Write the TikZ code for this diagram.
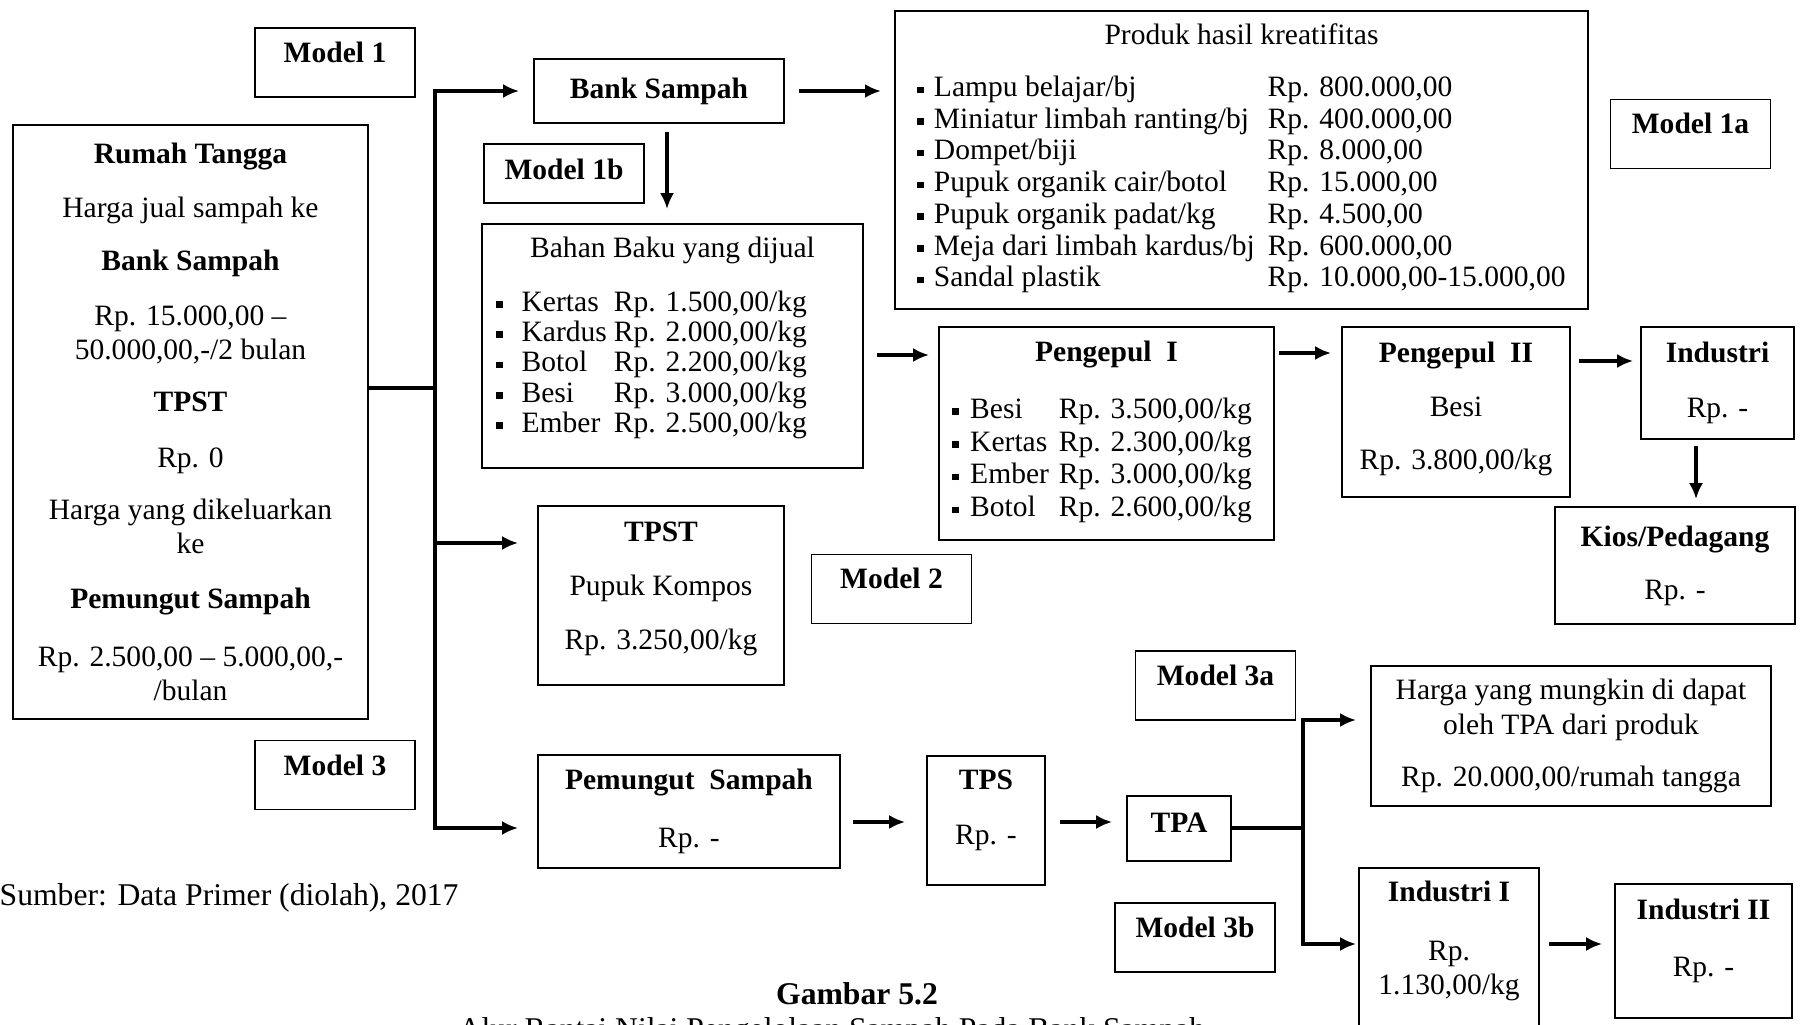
\documentclass[tikz,border=0pt]{standalone}
\usepackage{fontspec}
\setmainfont{Liberation Serif}
\usetikzlibrary{arrows.meta}
\newcommand{\boxfont}{\fontsize{8.4}{9.7}\selectfont}
\newcommand{\sqb}{\rule[0.035cm]{0.065cm}{0.065cm}}
\newcommand{\lowstrut}[1]{\rule[-#1]{0pt}{#1}}
\begin{document}
\begin{tikzpicture}[x=0.01cm,y=-0.01cm,
  box/.style={draw,line width=0.45pt,align=center,inner sep=0pt,font=\boxfont},
  modelbox/.style={box,font=\boxfont\bfseries,minimum width=1.6cm,minimum height=0.69cm,text height=0.3cm,text depth=0.3cm},
  link/.style={line width=0.9pt},
  arr/.style={link,-{Latex[length=1.6mm,width=1.4mm]}}]
\useasboundingbox (0,0) rectangle (1800,1025);
\clip (0,0) rectangle (1800,1025);
\node[modelbox] (m1) at (335,62.5) {Model 1};
\node[modelbox,text height=0.35cm,text depth=0.22cm,minimum height=0.59cm] (m1b) at (564,173.5) {Model 1b};
\node[modelbox] (m1a) at (1690.5,134) {Model 1a};
\node[modelbox] (m2) at (891.5,589) {Model 2};
\node[modelbox] (m3) at (335,775) {Model 3};
\node[modelbox] (m3a) at (1215.5,685.5) {Model 3a};
\node[modelbox] (m3b) at (1195,937.5) {Model 3b};
\node[box,minimum width=3.55cm,minimum height=5.94cm] (rt) at (190.5,422) {\textbf{Rumah Tangga}\\[0.19cm]Harga jual sampah ke\\[0.19cm]\textbf{Bank Sampah}\\[0.21cm]Rp. 15.000,00 --\\50.000,00,-/2 bulan\\[0.18cm]\textbf{TPST}\\[0.22cm]Rp. 0\\[0.18cm]Harga yang dikeluarkan\\ke\\[0.2cm]\textbf{Pemungut Sampah}\\[0.24cm]Rp. 2.500,00 -- 5.000,00,-\\/bulan};
\node[box,font=\boxfont\bfseries,minimum width=2.5cm,minimum height=0.64cm] (bs) at (659,91) {Bank Sampah};
\node[box,minimum width=6.93cm,minimum height=2.98cm] (pk) at (1241.5,160) {Produk hasil kreatifitas\\[0.18cm]{\def\arraystretch{0.93}\begin{tabular}[t]{@{}l@{\hspace{0.1cm}}l@{\hspace{0.13cm}}l@{}}
\sqb & Lampu belajar/bj & Rp. 800.000,00\\
\sqb & Miniatur limbah ranting/bj & Rp. 400.000,00\\
\sqb & Dompet/biji & Rp. 8.000,00\\
\sqb & Pupuk organik cair/botol & Rp. 15.000,00\\
\sqb & Pupuk organik padat/kg & Rp. 4.500,00\\
\sqb & Meja dari limbah kardus/bj & Rp. 600.000,00\\
\sqb & Sandal plastik & Rp. 10.000,00-15.000,00
\end{tabular}}};
\node[box,minimum width=3.81cm,minimum height=2.44cm] (bb) at (672.5,346) {Bahan Baku yang dijual\\[0.19cm]\hspace*{-0.42cm}{\def\arraystretch{0.89}\begin{tabular}[t]{@{}l@{\hspace{0.19cm}}l@{\hspace{0.07cm}}l@{}}
\sqb & Kertas & Rp. 1.500,00/kg\\
\sqb & Kardus & Rp. 2.000,00/kg\\
\sqb & Botol & Rp. 2.200,00/kg\\
\sqb & Besi & Rp. 3.000,00/kg\\
\sqb & Ember & Rp. 2.500,00/kg\\[0.13cm]
\end{tabular}}};
\node[box,minimum width=3.35cm,minimum height=2.13cm] (p1) at (1106.5,433.5) {\textbf{Pengepul\enspace I}\\[0.23cm]\hspace*{-0.09cm}{\def\arraystretch{0.96}\begin{tabular}[t]{@{}l@{\hspace{0.115cm}}l@{\hspace{0.1cm}}l@{}}
\sqb & Besi & Rp. 3.500,00/kg\\
\sqb & Kertas & Rp. 2.300,00/kg\\
\sqb & Ember & Rp. 3.000,00/kg\\
\sqb & Botol & Rp. 2.600,00/kg
\end{tabular}}};
\node[box,minimum width=2.28cm,minimum height=1.7cm] (p2) at (1456,412) {\textbf{Pengepul\enspace II}\\[0.2cm]Besi\\[0.19cm]Rp. 3.800,00/kg\lowstrut{0.13cm}};
\node[box,minimum width=1.53cm,minimum height=1.12cm] (ind) at (1717.5,383) {\textbf{Industri}\\[0.21cm]Rp. -};
\node[box,minimum width=2.4cm,minimum height=1.17cm] (kios) at (1675,565.5) {\textbf{Kios/Pedagang}\\[0.19cm]Rp. -};
\node[box,minimum width=2.46cm,minimum height=1.79cm] (tpst) at (661,595.5) {\textbf{TPST}\\[0.2cm]Pupuk Kompos\\[0.2cm]Rp. 3.250,00/kg\lowstrut{0.2cm}};
\node[box,minimum width=3.02cm,minimum height=1.13cm] (pem) at (689,811.5) {\textbf{Pemungut\enspace Sampah}\\[0.24cm]Rp. -};
\node[box,minimum width=1.18cm,minimum height=1.29cm] (tps) at (986,820.5) {\textbf{TPS}\\[0.21cm]Rp. -\lowstrut{0.26cm}};
\node[box,font=\boxfont\bfseries,minimum width=1.04cm,minimum height=0.65cm,text depth=0.12cm] (tpa) at (1179,828.5) {TPA};
\node[box,minimum width=4cm,minimum height=1.4cm] (htpa) at (1571,736) {Harga yang mungkin di dapat\\oleh TPA dari produk\\[0.18cm]Rp. 20.000,00/rumah tangga};
\node[box,minimum width=1.8cm,minimum height=2cm] (ind1) at (1449,968) {\textbf{Industri I}\\[0.25cm]Rp.\\1.130,00/kg\lowstrut{0.6cm}};
\node[box,minimum width=1.77cm,minimum height=1.34cm] (ind2) at (1703.5,951) {\textbf{Industri II}\\[0.23cm]Rp. -\lowstrut{0.27cm}};
\node[anchor=west,inner sep=0pt,font=\fontsize{9}{11}\selectfont] (src) at (-1,898) {Sumber: Data Primer (diolah), 2017};
\node[font=\fontsize{9}{11}\selectfont\bfseries] (fig) at (857,994) {Gambar 5.2};
\node[anchor=north west,inner sep=0pt,font=\fontsize{9}{11}\selectfont] (cap) at (458,1017) {Alur Rantai Nilai Pengelolaan Sampah Pada Bank Sampah};
\coordinate (jt) at (435,388);
\coordinate (jb) at (1303,828);
\draw[link] (rt.east |- jt) -- (jt);
\draw[arr,shorten >=0.14cm] (jt) |- (bs.west);
\draw[arr,shorten >=0.19cm] (jt) |- (tpst.west |- 0,543);
\draw[arr,shorten >=0.19cm] (jt) |- (pem.west |- 0,828);
\draw[arr,shorten <=0.14cm,shorten >=0.13cm] (bs.east) -- (pk.west |- bs.east);
\draw[arr,shorten <=0.08cm,shorten >=0.14cm] (bs.south -| 667,0) -- (bb.north -| 667,0);
\draw[arr,shorten <=0.13cm,shorten >=0.09cm] (bb.east |- 0,355) -- (p1.west |- 0,355);
\draw[arr,shorten <=0.04cm,shorten >=0.1cm] (p1.east |- 0,353) -- (p2.west |- 0,353);
\draw[arr,shorten <=0.08cm,shorten >=0.07cm] (p2.east |- 0,361) -- (ind.west |- 0,361);
\draw[arr,shorten <=0.06cm,shorten >=0.07cm] (ind.south -| 1696,0) -- (kios.north -| 1696,0);
\draw[arr,shorten <=0.12cm,shorten >=0.21cm] (pem.east |- 0,822) -- (tps.west |- 0,822);
\draw[arr,shorten <=0.14cm,shorten >=0.14cm] (tps.east |- 0,822) -- (tpa.west |- 0,822);
\draw[link] (tpa.east |- jb) -- (jb);
\draw[arr,shorten >=0.14cm] (jb) |- (htpa.west |- 0,720);
\draw[arr,shorten >=0.02cm] (jb) |- (ind1.west |- 0,944);
\draw[arr,shorten <=0.09cm,shorten >=0.12cm] (ind1.east |- 0,944) -- (ind2.west |- 0,944);
\end{tikzpicture}
\end{document}
